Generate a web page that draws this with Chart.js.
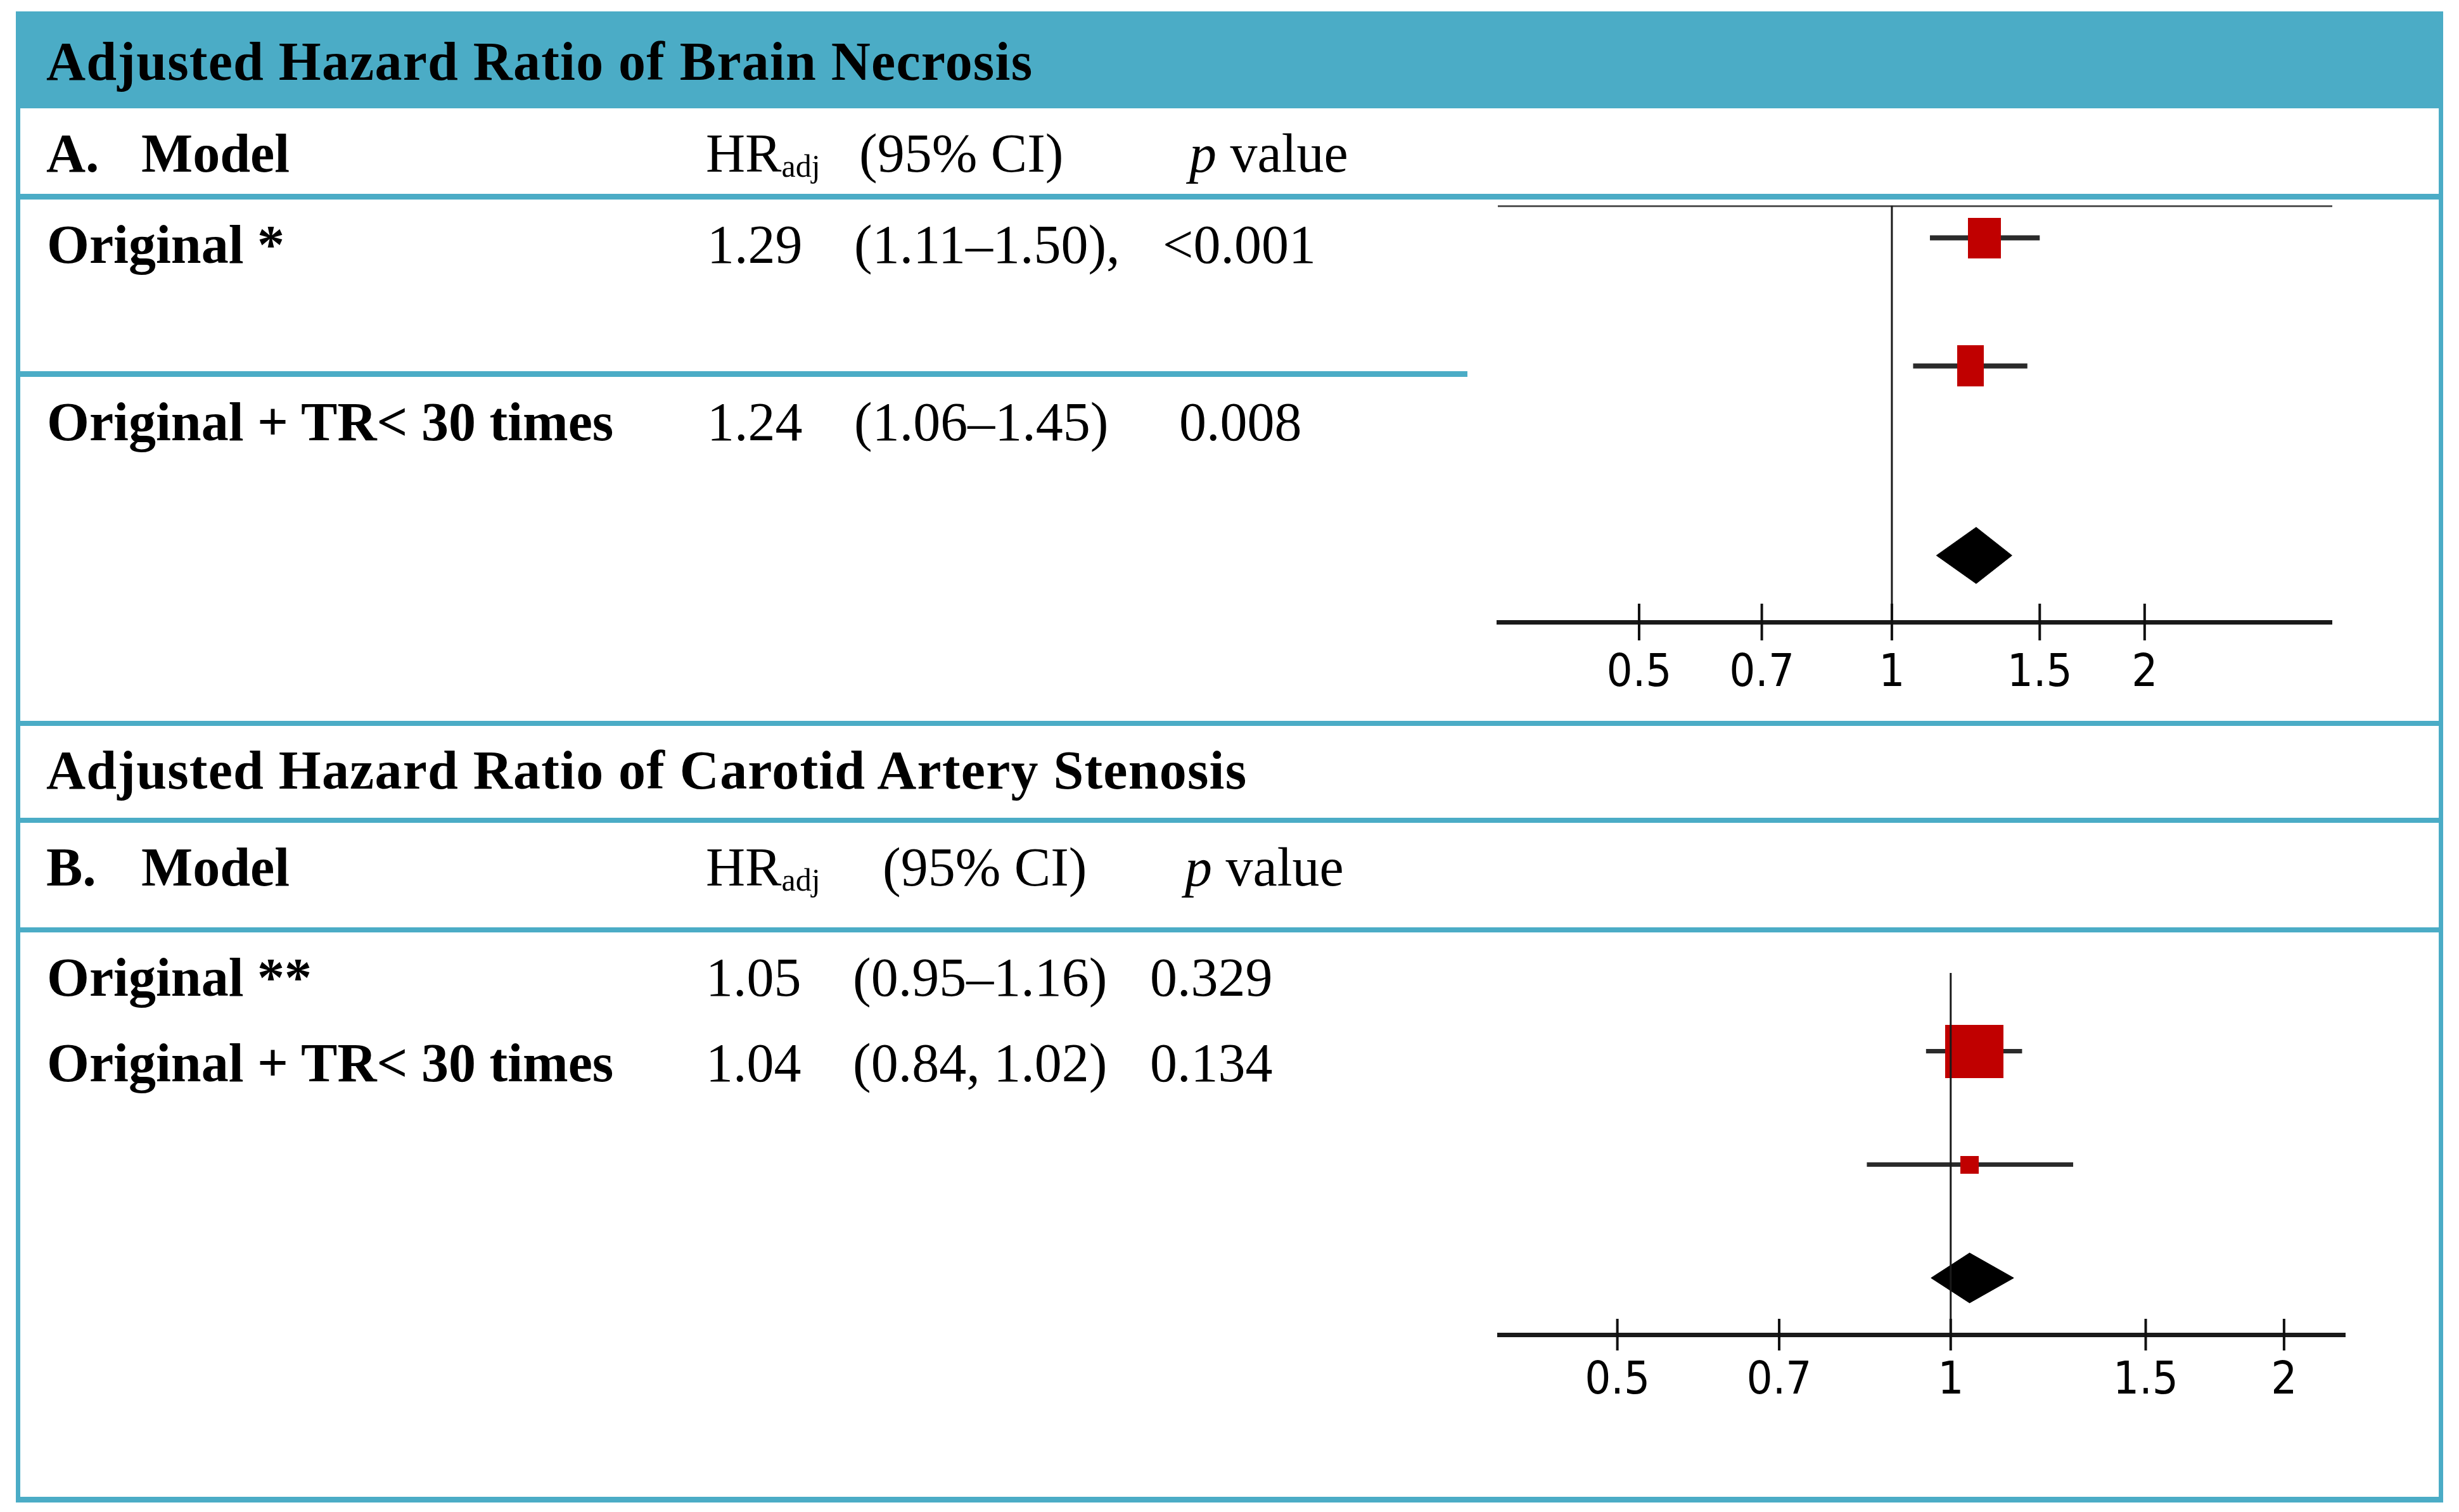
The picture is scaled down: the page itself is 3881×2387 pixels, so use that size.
<!DOCTYPE html>
<html>
<head>
<meta charset="utf-8">
<script src="https://cdn.jsdelivr.net/npm/chart.js@4.4.1/dist/chart.umd.min.js"></script>
<style>
  html, body { margin: 0; padding: 0; background: #fff; }
  body { width: 3881px; height: 2387px; position: relative; overflow: hidden;
         font-family: "Liberation Serif", "DejaVu Serif", serif; color: #000; }
  .rule { position: absolute; background: #4BACC6; }
  .t { position: absolute; font-size: 86px; line-height: 1; white-space: nowrap; }
  .b { font-weight: bold; }
  .wide { letter-spacing: 1.2px; }
  .sub { font-size: 50px; position: relative; top: 8px; }
  canvas { position: absolute; }
</style>
</head>
<body>
<!-- teal frame and row rules -->
<div class="rule" style="left:25px;top:18px;width:3831px;height:153px"></div>
<div class="rule" style="left:25px;top:18px;width:7px;height:2354px"></div>
<div class="rule" style="left:3849px;top:18px;width:7px;height:2354px"></div>
<div class="rule" style="left:25px;top:2363px;width:3831px;height:9px"></div>
<div class="rule" style="left:25px;top:306px;width:3831px;height:9px"></div>
<div class="rule" style="left:25px;top:586px;width:2291px;height:9px"></div>
<div class="rule" style="left:25px;top:1138px;width:3831px;height:8px"></div>
<div class="rule" style="left:25px;top:1291px;width:3831px;height:8px"></div>
<div class="rule" style="left:25px;top:1464px;width:3831px;height:8px"></div>

<canvas id="plotA" width="1325" height="812" style="left:2360px;top:300px;width:1325px;height:812px"></canvas>
<canvas id="plotB" width="1345" height="727" style="left:2361px;top:1510px;width:1345px;height:727px"></canvas>

<script>
// panel A: brain necrosis
const titleA = 'Adjusted Hazard Ratio of Brain Necrosis';
const modelsA = ['Original *', 'Original + TR< 30 times'];
const hrA = [1.29, 1.24];
const lowA = [1.11, 1.06];
const highA = [1.50, 1.45];
const ciTextA = ['(1.11–1.50),', '(1.06–1.45)'];
const pA = ['<0.001', '0.008'];
const pooledA = [1.26, 1.13, 1.39]; // estimate, low, high (diamond)

// panel B: carotid artery stenosis
const titleB = 'Adjusted Hazard Ratio of Carotid Artery Stenosis';
const modelsB = ['Original **', 'Original + TR< 30 times'];
const hrB = [1.05, 1.04];
const lowB = [0.95, 0.84];
const highB = [1.16, 1.29];
const ciTextB = ['(0.95–1.16)', '(0.84, 1.02)'];
const pB = ['0.329', '0.134'];
const pooledB = [1.04, 0.96, 1.14];

const xTicks = [0.5, 0.7, 1, 1.5, 2];

// ---- table text ----
function text(x, base, html, cls) {
  const d = document.createElement('div');
  d.className = 't ' + (cls || '');
  d.style.left = x + 'px';
  d.style.top = (base - 72) + 'px';
  d.innerHTML = html;
  document.body.appendChild(d);
}

text(73, 126, titleA, 'b wide');
text(73, 271, 'A.', 'b');
text(223, 271, 'Model', 'b');
text(1114, 271, 'HR<span class="sub">adj</span>');
text(1356, 271, '(95% CI)');
text(1877, 271, '<i>p</i> value');
const baseA = [415, 695];
const pxA = [1835, 1861];
modelsA.forEach((m, i) => {
  text(74, baseA[i], m, 'b');
  text(1116, baseA[i], hrA[i].toFixed(2));
  text(1348, baseA[i], ciTextA[i]);
  text(pxA[i], baseA[i], pA[i].replace('<', '&lt;'));
});

text(73, 1245, titleB, 'b wide');
text(73, 1398, 'B.', 'b');
text(223, 1398, 'Model', 'b');
text(1114, 1398, 'HR<span class="sub">adj</span>');
text(1393, 1398, '(95% CI)');
text(1870, 1398, '<i>p</i> value');
const baseB = [1572, 1707];
modelsB.forEach((m, i) => {
  text(74, baseB[i], m, 'b');
  text(1114, baseB[i], hrB[i].toFixed(2));
  text(1346, baseB[i], ciTextB[i]);
  text(1815, baseB[i], pB[i]);
});

// ---- forest plots ----
function makeBox(w, h) {
  const c = document.createElement('canvas');
  c.width = w; c.height = h;
  const g = c.getContext('2d');
  g.fillStyle = '#C00000';
  g.fillRect(0, 0, w, h);
  return c;
}

const crossTicks = {
  id: 'crossTicks',
  afterDraw(chart, args, opts) {
    const s = chart.scales.x, ctx = chart.ctx, y = chart.chartArea.bottom;
    ctx.save();
    ctx.strokeStyle = '#111';
    ctx.lineWidth = 4;
    s.ticks.forEach(t => {
      const px = s.getPixelForValue(t.value);
      ctx.beginPath();
      ctx.moveTo(px, y - opts.len);
      ctx.lineTo(px, y + opts.len);
      ctx.stroke();
    });
    ctx.restore();
  }
};

function forest(id, o) {
  const datasets = [];
  // line of no effect
  datasets.push({
    data: [{ x: 1, y: o.yMin }, { x: 1, y: o.yMax }],
    showLine: true, borderColor: '#1a1a1a', borderWidth: 3, pointRadius: 0, order: 0
  });
  o.hr.forEach((v, i) => {
    datasets.push({
      data: [{ x: o.low[i], y: o.rows[i] }, { x: o.high[i], y: o.rows[i] }],
      showLine: true, borderColor: '#2b2b2b', borderWidth: o.ciWidth, pointRadius: 0, order: 3
    });
  });
  datasets.push({
    data: o.hr.map((v, i) => ({ x: v, y: o.rows[i] })),
    pointStyle: o.boxes, pointRadius: 2, order: 1
  });
  const [est, lo, hi] = o.pooled, r = o.pooledRow, h = 0.22;
  datasets.push({
    data: [{ x: lo, y: r }, { x: est, y: r - h }, { x: hi, y: r }, { x: est, y: r + h }, { x: lo, y: r }],
    showLine: true, fill: 'shape', backgroundColor: '#000', borderColor: '#000',
    borderWidth: 1, pointRadius: 0, order: 2
  });

  const scales = {
    x: {
      type: 'logarithmic', min: o.xMin, max: o.xMax, bounds: 'data',
      afterBuildTicks: s => { s.ticks = xTicks.map(v => ({ value: v })); },
      afterFit: s => { s.height = 130; },
      grid: { display: false, drawTicks: false },
      border: { display: true, color: '#1a1a1a', width: 7 },
      ticks: {
        padding: o.labelPad, color: '#000', autoSkip: false, maxRotation: 0,
        font: { family: '"Liberation Sans Narrow", "DejaVu Sans Condensed", "Arial Narrow", "Liberation Sans", Arial', size: 72 },
        callback: v => String(v)
      }
    },
    y: { type: 'linear', reverse: true, min: o.yMin, max: o.yMax, display: false }
  };
  if (o.topLine) {
    scales.xTop = {
      type: 'logarithmic', position: 'top', min: o.xMin, max: o.topMax, bounds: 'data',
      afterFit: s => { s.height = 0; },
      ticks: { display: false },
      grid: { display: false, drawTicks: false },
      border: { display: true, color: '#555', width: 3 }
    };
  }

  new Chart(document.getElementById(id), {
    type: 'scatter',
    data: { datasets },
    options: {
      responsive: false, animation: false, devicePixelRatio: 1, events: [],
      layout: { padding: { top: o.padTop, left: 0, right: 0, bottom: 0 } },
      plugins: { legend: { display: false }, tooltip: { enabled: false }, crossTicks: { len: o.tickLen } },
      scales
    },
    plugins: [crossTicks]
  });
}

forest('plotA', {
  hr: hrA, low: lowA, high: highA, pooled: pooledA,
  rows: [1, 2], pooledRow: 3.48, yMin: 0.75, yMax: 4.0,
  xMin: 0.34, xMax: 3.34, topMax: 3.48, topLine: true, padTop: 25,
  tickLen: 29, labelPad: 39, ciWidth: 8,
  boxes: [makeBox(52, 64), makeBox(42, 65)]
});

forest('plotB', {
  hr: hrB, low: lowB, high: highB, pooled: pooledB,
  rows: [1, 2], pooledRow: 3, yMin: 0.31, yMax: 3.5,
  xMin: 0.391, xMax: 2.27, topLine: false, padTop: 26,
  tickLen: 25, labelPad: 31, ciWidth: 7,
  boxes: [makeBox(92, 84), makeBox(29, 28)]
});
</script>
</body>
</html>
